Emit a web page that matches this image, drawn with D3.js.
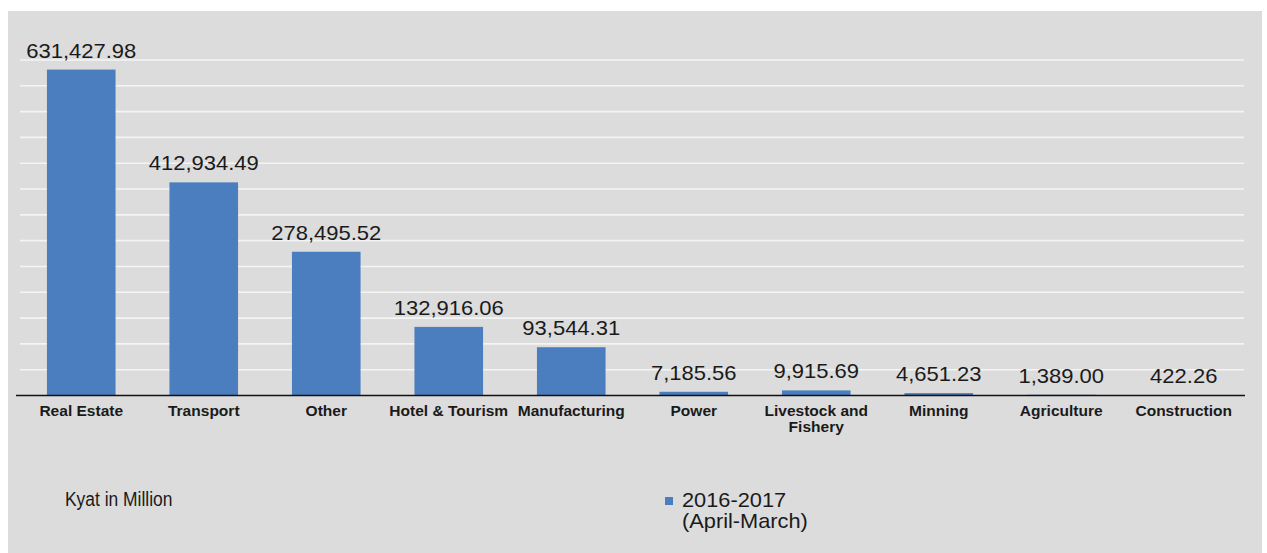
<!DOCTYPE html>
<html>
<head>
<meta charset="utf-8">
<script src="https://cdn.jsdelivr.net/npm/d3@7"></script>
<style>
  html, body { margin: 0; padding: 0; background: #ffffff; }
  svg { display: block; }
</style>
</head>
<body>
<svg id="chart" width="1267" height="553"></svg>
<script>
// ---- Data ----
const categories = ["Real Estate", "Transport", "Other", "Hotel & Tourism", "Manufacturing",
                    "Power", "Livestock and Fishery", "Minning", "Agriculture", "Construction"];
const categoryLines = [["Real Estate"], ["Transport"], ["Other"], ["Hotel & Tourism"], ["Manufacturing"],
                       ["Power"], ["Livestock and", "Fishery"], ["Minning"], ["Agriculture"], ["Construction"]];
const values = [631427.98, 412934.49, 278495.52, 132916.06, 93544.31,
                7185.56, 9915.69, 4651.23, 1389.00, 422.26];
const valueLabels = ["631,427.98", "412,934.49", "278,495.52", "132,916.06", "93,544.31",
                     "7,185.56", "9,915.69", "4,651.23", "1,389.00", "422.26"];
const gridTicks = d3.range(50000, 650001, 50000);
const seriesName = ["2016-2017", "(April-March)"];
const unitLabel = "Kyat in Million";

// ---- Layout ----
const svg = d3.select("#chart");
const W = 1267, H = 553;
const barColor = "#4a7ebf";

// panel background
svg.append("rect").attr("x", 8).attr("y", 11).attr("width", 1254).attr("height", H - 11)
  .attr("fill", "#dcdcdc");

const x = d3.scaleBand().domain(categories).range([20, 1245]).paddingInner(0.44).paddingOuter(0.22);
const y = d3.scaleLinear().domain([0, 650000]).range([395.5, 60]);

// gridlines
svg.append("g").selectAll("line").data(gridTicks).join("line")
  .attr("x1", 20).attr("x2", 1244)
  .attr("y1", d => y(d)).attr("y2", d => y(d))
  .attr("stroke", "#f4f4f4").attr("stroke-width", 1.6);

// bars
svg.append("g").selectAll("rect").data(values).join("rect")
  .attr("x", (d, i) => x(categories[i]))
  .attr("width", x.bandwidth())
  .attr("y", d => y(d))
  .attr("height", d => y(0) - y(d))
  .attr("fill", barColor);

// baseline axis
svg.append("line").attr("x1", 16).attr("x2", 1245)
  .attr("y1", y(0)).attr("y2", y(0))
  .attr("stroke", "#111").attr("stroke-width", 1.6);

// value labels
svg.append("g").selectAll("text").data(values).join("text")
  .attr("transform", (d, i) => `translate(${x(categories[i]) + x.bandwidth() / 2},${y(d) - 12}) scale(1.1,1)`)
  .attr("text-anchor", "middle")
  .attr("font-family", "'Liberation Sans', Arial, sans-serif")
  .attr("font-size", 20)
  .attr("fill", "#1a1a1a")
  .text((d, i) => valueLabels[i]);

// category labels
const catG = svg.append("g");
categories.forEach((c, i) => {
  const cx = x(c) + x.bandwidth() / 2;
  categoryLines[i].forEach((line, j) => {
    catG.append("text")
      .attr("transform", `translate(${cx},${416 + j * 15.5}) scale(1.11,1)`)
      .attr("text-anchor", "middle")
      .attr("font-family", "'Liberation Sans', Arial, sans-serif")
      .attr("font-weight", "bold")
      .attr("font-size", 14)
      .attr("fill", "#1a1a1a")
      .text(line);
  });
});

// unit label (condensed look)
svg.append("text")
  .attr("transform", "translate(65,506) scale(0.83,1)")
  .attr("font-family", "'Liberation Sans', Arial, sans-serif")
  .attr("font-size", 21)
  .attr("fill", "#1a1a1a")
  .text(unitLabel);

// legend
svg.append("rect").attr("x", 665).attr("y", 497).attr("width", 8).attr("height", 8).attr("fill", barColor);
seriesName.forEach((t, j) => {
  svg.append("text")
    .attr("transform", `translate(682,${507 + j * 21}) scale(1.09,1)`)
    .attr("font-family", "'Liberation Sans', Arial, sans-serif")
    .attr("font-size", 20)
    .attr("fill", "#1a1a1a")
    .text(t);
});
</script>
</body>
</html>
